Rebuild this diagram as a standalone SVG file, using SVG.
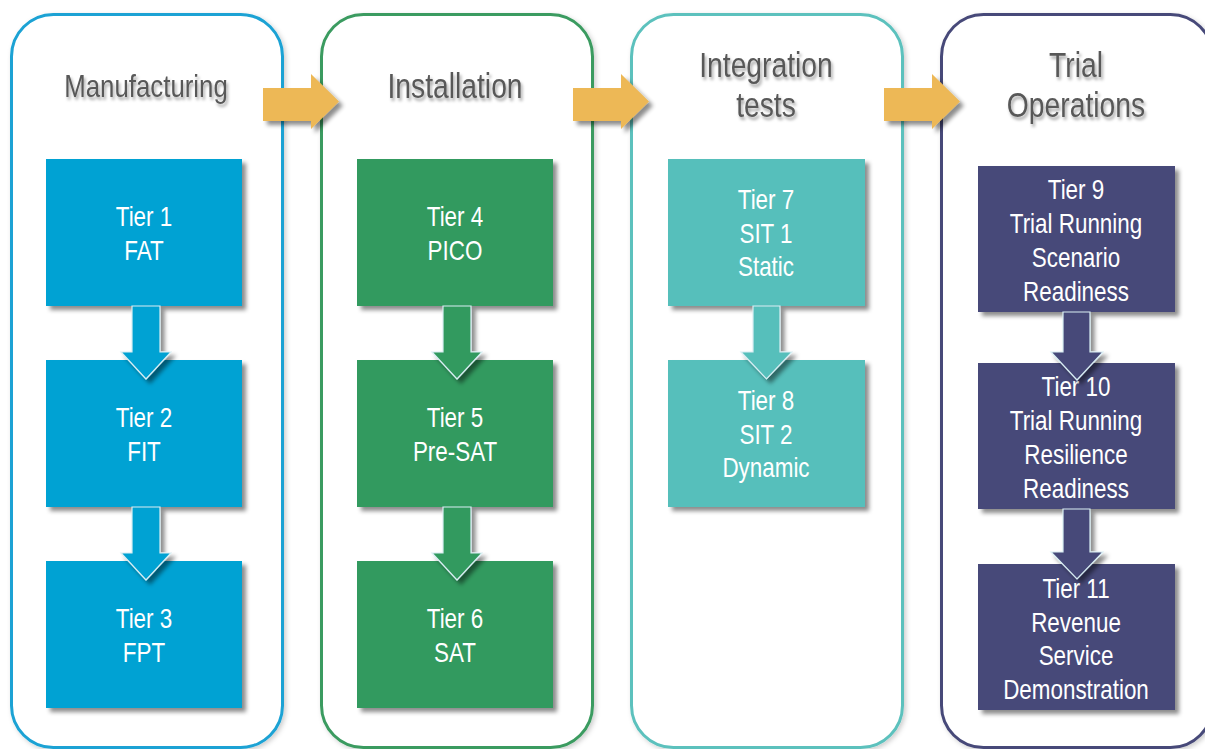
<svg xmlns="http://www.w3.org/2000/svg" width="1205" height="749" viewBox="0 0 1205 749">
<defs>
<style>
.panel{fill:#fff;stroke-width:3}
.title{font-family:"Liberation Sans",Arial,sans-serif;font-size:34.5px;fill:#595959;text-anchor:middle}
.title.sm{font-size:31.5px}
.lbl{font-family:"Liberation Sans",Arial,sans-serif;font-size:27px;fill:#fff;text-anchor:middle}
.blue{fill:#00A2D3}.green{fill:#339A5E}.teal{fill:#57BFBB}.purple{fill:#474A79}
.darr{stroke:#d9eef4;stroke-width:1.2}
.orange{fill:#EDB856}
</style>
<filter id="sh" x="-20%" y="-20%" width="140%" height="140%">
<feDropShadow dx="4" dy="4" stdDeviation="2" flood-color="#000" flood-opacity="0.45"/>
</filter>
<filter id="psh" x="-10%" y="-10%" width="120%" height="120%">
<feDropShadow dx="2" dy="2" stdDeviation="2.5" flood-color="#000" flood-opacity="0.2"/>
</filter>
<filter id="tsh" x="-20%" y="-40%" width="140%" height="180%">
<feDropShadow dx="2" dy="3" stdDeviation="1.8" flood-color="#000" flood-opacity="0.35"/>
</filter>
</defs>
<rect width="1205" height="749" fill="#fff"/>

<g id="panel-manufacturing">
<rect class="panel" x="11.5" y="14.5" width="271" height="733" rx="42" stroke="#1AA2D4" filter="url(#psh)"/>
<text class="title sm" filter="url(#tsh)" transform="translate(146 97) scale(0.82 1)">Manufacturing</text>
</g>
<g id="panel-installation">
<rect class="panel" x="321.5" y="14.5" width="271" height="733" rx="42" stroke="#3A9B60" filter="url(#psh)"/>
<text class="title" filter="url(#tsh)" transform="translate(455 98) scale(0.82 1)">Installation</text>
</g>
<g id="panel-integration">
<rect class="panel" x="631.5" y="14.5" width="271" height="733" rx="42" stroke="#5BC1BD" filter="url(#psh)"/>
<text class="title" filter="url(#tsh)" transform="translate(766 77) scale(0.82 1)">Integration</text>
<text class="title" filter="url(#tsh)" transform="translate(766 117) scale(0.82 1)">tests</text>
</g>
<g id="panel-trial">
<rect class="panel" x="941.5" y="14.5" width="271" height="733" rx="42" stroke="#474A79" filter="url(#psh)"/>
<text class="title" filter="url(#tsh)" transform="translate(1076 77) scale(0.82 1)">Trial</text>
<text class="title" filter="url(#tsh)" transform="translate(1076 117) scale(0.82 1)">Operations</text>
</g>

<g id="tier1"><rect class="blue" x="46" y="159" width="196" height="147" filter="url(#sh)"/>
<text class="lbl" transform="translate(144 226) scale(0.83 1)">Tier 1</text>
<text class="lbl" transform="translate(144 260) scale(0.83 1)">FAT</text></g>
<g id="tier2"><rect class="blue" x="46" y="360" width="196" height="147" filter="url(#sh)"/>
<text class="lbl" transform="translate(144 427) scale(0.83 1)">Tier 2</text>
<text class="lbl" transform="translate(144 461) scale(0.83 1)">FIT</text></g>
<g id="tier3"><rect class="blue" x="46" y="561" width="196" height="147" filter="url(#sh)"/>
<text class="lbl" transform="translate(144 628) scale(0.83 1)">Tier 3</text>
<text class="lbl" transform="translate(144 662) scale(0.83 1)">FPT</text></g>

<g id="tier4"><rect class="green" x="357" y="159" width="196" height="147" filter="url(#sh)"/>
<text class="lbl" transform="translate(455 226) scale(0.83 1)">Tier 4</text>
<text class="lbl" transform="translate(455 260) scale(0.83 1)">PICO</text></g>
<g id="tier5"><rect class="green" x="357" y="360" width="196" height="147" filter="url(#sh)"/>
<text class="lbl" transform="translate(455 427) scale(0.83 1)">Tier 5</text>
<text class="lbl" transform="translate(455 461) scale(0.83 1)">Pre-SAT</text></g>
<g id="tier6"><rect class="green" x="357" y="561" width="196" height="147" filter="url(#sh)"/>
<text class="lbl" transform="translate(455 628) scale(0.83 1)">Tier 6</text>
<text class="lbl" transform="translate(455 662) scale(0.83 1)">SAT</text></g>

<g id="tier7"><rect class="teal" x="668" y="159" width="197" height="147" filter="url(#sh)"/>
<text class="lbl" transform="translate(766 209) scale(0.83 1)">Tier 7</text>
<text class="lbl" transform="translate(766 243) scale(0.83 1)">SIT 1</text>
<text class="lbl" transform="translate(766 276) scale(0.83 1)">Static</text></g>
<g id="tier8"><rect class="teal" x="668" y="360" width="197" height="147" filter="url(#sh)"/>
<text class="lbl" transform="translate(766 410) scale(0.83 1)">Tier 8</text>
<text class="lbl" transform="translate(766 444) scale(0.83 1)">SIT 2</text>
<text class="lbl" transform="translate(766 477) scale(0.83 1)">Dynamic</text></g>

<g id="tier9"><rect class="purple" x="978" y="166" width="197" height="146" filter="url(#sh)"/>
<text class="lbl" transform="translate(1076 199) scale(0.83 1)">Tier 9</text>
<text class="lbl" transform="translate(1076 233) scale(0.83 1)">Trial Running</text>
<text class="lbl" transform="translate(1076 267) scale(0.83 1)">Scenario</text>
<text class="lbl" transform="translate(1076 301) scale(0.83 1)">Readiness</text></g>
<g id="tier10"><rect class="purple" x="978" y="363" width="197" height="146" filter="url(#sh)"/>
<text class="lbl" transform="translate(1076 396) scale(0.83 1)">Tier 10</text>
<text class="lbl" transform="translate(1076 430) scale(0.83 1)">Trial Running</text>
<text class="lbl" transform="translate(1076 464) scale(0.83 1)">Resilience</text>
<text class="lbl" transform="translate(1076 498) scale(0.83 1)">Readiness</text></g>
<g id="tier11"><rect class="purple" x="978" y="564" width="197" height="146" filter="url(#sh)"/>
<text class="lbl" transform="translate(1076 598) scale(0.83 1)">Tier 11</text>
<text class="lbl" transform="translate(1076 632) scale(0.83 1)">Revenue</text>
<text class="lbl" transform="translate(1076 665) scale(0.83 1)">Service</text>
<text class="lbl" transform="translate(1076 699) scale(0.83 1)">Demonstration</text></g>

<g id="connectors">
<path class="orange" filter="url(#sh)" d="M263 88 H311 V74 L339 101.5 L311 129 V121 H263 Z"/>
<path class="orange" filter="url(#sh)" d="M573 88 H621 V74 L649 101.5 L621 129 V121 H573 Z"/>
<path class="orange" filter="url(#sh)" d="M884 88 H932 V74 L960 101.5 L932 129 V121 H884 Z"/>

<path class="blue darr" filter="url(#sh)" d="M132 306 H160 V352 H171 L146 379 L121 352 H132 Z"/>
<path class="blue darr" filter="url(#sh)" d="M132 507 H160 V553 H171 L146 580 L121 553 H132 Z"/>
<path class="green darr" filter="url(#sh)" d="M443 306 H471 V352 H482 L457 379 L432 352 H443 Z"/>
<path class="green darr" filter="url(#sh)" d="M443 507 H471 V553 H482 L457 580 L432 553 H443 Z"/>
<path class="teal darr" filter="url(#sh)" d="M753 306 H780 V352 H792 L766.5 379 L741 352 H753 Z"/>
<path class="purple darr" filter="url(#sh)" d="M1063 312 H1090 V352 H1103 L1077 380 L1051 352 H1063 Z"/>
<path class="purple darr" filter="url(#sh)" d="M1063 509 H1090 V552 H1103 L1077 579 L1051 552 H1063 Z"/>
</g>
</svg>
